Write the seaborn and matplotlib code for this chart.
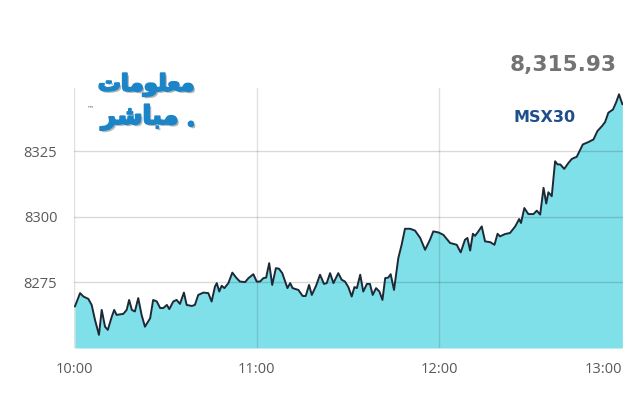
import matplotlib
matplotlib.use("Agg")
import matplotlib.pyplot as plt
import matplotlib.patheffects as pe
import seaborn as sns
import pandas as pd

# minutes after 10:00
minutes = [0.3, 2.0, 3.1, 4.7, 5.8, 6.9, 8.2, 9.1, 10.2, 11.1, 12.4, 13.2, 14.0, 16.2, 17.3,
           18.1, 19.0, 20.0, 21.1, 22.2, 23.3, 25.0, 26.0, 27.2, 28.3, 29.3, 30.5, 31.3, 32.6,
           33.7, 34.8, 36.1, 37.0, 38.7, 39.7, 40.8, 42.5, 44.1, 45.2, 46.3, 46.9, 47.7, 48.5,
           49.4, 50.2, 50.7, 52.0, 53.4, 54.5, 56.2, 57.3, 58.9, 60.0, 61.1, 62.2, 63.1, 64.1,
           65.1, 66.3, 67.3, 68.4, 70.1, 71.0, 71.8, 73.7, 75.1, 76.1, 77.2, 78.1, 79.5, 80.8,
           82.1, 83.0, 84.1, 85.2, 86.8, 87.9, 89.0, 90.1, 91.2, 92.1, 92.9, 94.0, 95.0, 96.2,
           97.2, 98.1, 99.2, 100.3, 101.3, 102.2, 103.2, 104.0, 105.1, 106.5, 107.6, 108.7,
           110.4, 112.0, 113.7, 115.3, 116.9, 118.0, 119.7, 121.3, 123.5, 125.7, 127.0, 128.4,
           129.2, 130.1, 131.0, 131.7, 132.8, 133.9, 135.0, 136.7, 138.1, 139.1, 139.9, 141.6,
           143.2, 144.9, 146.2, 146.8, 147.9, 149.2, 150.9, 152.0, 153.1, 154.2, 155.1, 155.8,
           156.9, 158.0, 158.8, 159.7, 161.0, 162.4, 163.5, 165.1, 167.1, 168.9, 170.6, 171.9,
           173.4, 174.4, 175.5, 177.0, 178.0, 179.0, 180.1]
index_values = [8265.8, 8270.9, 8269.6, 8268.7, 8266.4, 8260.7, 8255.0, 8264.5, 8258.1, 8256.9,
                8261.9, 8264.5, 8262.6, 8263.0, 8264.5, 8268.3, 8264.5, 8263.9, 8269.0, 8262.6,
                8258.1, 8261.3, 8268.3, 8267.7, 8265.2, 8265.2, 8266.4, 8264.8, 8267.7, 8268.3,
                8266.8, 8271.1, 8266.4, 8266.0, 8266.4, 8270.2, 8271.1, 8270.9, 8267.7, 8273.4,
                8274.7, 8271.5, 8273.7, 8272.8, 8274.0, 8274.7, 8278.7, 8276.6, 8275.3, 8275.1,
                8276.6, 8278.1, 8275.3, 8275.3, 8276.6, 8276.8, 8282.3, 8274.0, 8280.4, 8280.2,
                8278.5, 8272.8, 8274.7, 8272.8, 8272.1, 8269.8, 8269.8, 8274.0, 8270.2, 8273.7,
                8277.9, 8274.4, 8274.7, 8278.5, 8274.7, 8278.5, 8276.0, 8275.3, 8273.2, 8269.6,
                8273.2, 8272.8, 8277.9, 8271.5, 8274.4, 8274.4, 8270.2, 8272.8, 8271.5, 8268.3,
                8276.6, 8276.8, 8278.1, 8272.1, 8284.2, 8289.3, 8295.4, 8295.4, 8294.7, 8291.9,
                8287.4, 8291.2, 8294.4, 8294.0, 8293.1, 8290.0, 8289.3, 8286.4, 8291.2, 8291.9,
                8287.1, 8293.5, 8292.7, 8294.4, 8296.3, 8290.6, 8290.3, 8289.3, 8293.5, 8292.5,
                8293.4, 8293.8, 8296.3, 8299.1, 8297.6, 8303.3, 8301.0, 8301.0, 8302.3, 8300.8,
                8311.0, 8305.0, 8309.3, 8307.8, 8321.1, 8319.9, 8319.9, 8318.2, 8320.5, 8322.0,
                8322.8, 8327.5, 8328.4, 8329.4, 8332.6, 8334.5, 8336.0, 8339.6, 8340.8, 8343.4,
                8346.6, 8342.8]

x_ticks = [0, 60, 120, 180]
x_tick_labels = ["10:00", "11:00", "12:00", "13:00"]
y_ticks = [8275, 8300, 8325]
y_tick_labels = ["8275", "8300", "8325"]

last_value_text = "8,315.93"
index_name = "MSX30"
logo_top = "\uFE95\uFE8E\uFEE3\uFEEE\uFEE0\uFECC\uFEE3"   # معلومات (shaped, visual order)
logo_bottom = "\uFEAE\uFEB7\uFE8E\uFE92\uFEE3"            # مباشر (shaped, visual order)

df = pd.DataFrame({"minutes": minutes, "value": index_values})

sns.set_theme(style="white")
plt.rcParams["font.family"] = ["Open Sans", "DejaVu Sans"]

fig = plt.figure(figsize=(6.4, 4.0), dpi=100)
ax = fig.add_axes([74 / 640, 52 / 400, 549 / 640, 260 / 400])

ax.fill_between(df["minutes"], df["value"], 8250, color="#80e0e9", lw=0, zorder=1)
sns.lineplot(data=df, x="minutes", y="value", ax=ax, color="#1d2936", lw=1.4, zorder=4)

for yv in y_ticks:
    ax.axhline(yv, color="black", alpha=0.15, lw=1, zorder=2)
for xv in x_ticks[:3]:
    ax.axvline(xv, color="black", alpha=0.12, lw=1, zorder=2)

ax.set_xlim(0, 180.3)
ax.set_ylim(8250, 8349)
ax.set_xticks(x_ticks)
ax.set_xticklabels(x_tick_labels)
ax.set_yticks(y_ticks)
ax.set_yticklabels(y_tick_labels)
ax.set_xlabel("")
ax.set_ylabel("")
for s in ax.spines.values():
    s.set_visible(False)
ax.tick_params(axis="both", length=0, labelsize=10.5, labelcolor="#595959")
ax.tick_params(axis="x", pad=10)
ax.tick_params(axis="y", pad=12)
lbls = ax.get_xticklabels()
lbls[-1].set_horizontalalignment("right")

fig.text(617 / 640, 1 - 65.5 / 400, last_value_text, ha="right", va="center",
         fontsize=15.6, fontweight="bold", color="#737373", family="DejaVu Sans")
fig.text(545 / 640, 1 - 117.5 / 400, index_name, ha="center", va="center",
         fontsize=11.5, fontweight="bold", color="#1f4e8c", family="DejaVu Sans")

logo_blue = "#1b85c8"
logo_fx = [pe.withSimplePatchShadow(offset=(1.5, -1.5), shadow_rgbFace="#7a7a7a", alpha=0.55),
           pe.Stroke(linewidth=1.4, foreground=logo_blue), pe.Normal()]
fig.text(146 / 640, 1 - 85 / 400, logo_top, ha="center", va="center", fontsize=16.5,
         fontweight="bold", color=logo_blue, family="DejaVu Sans", path_effects=logo_fx)
fig.text(140 / 640, 1 - 117 / 400, logo_bottom, ha="center", va="center", fontsize=18.5,
         fontweight="bold", color=logo_blue, family="DejaVu Sans", path_effects=logo_fx)
fig.text(191 / 640, 1 - 124 / 400, "\u25CF", ha="center", va="center", fontsize=4.5,
         color=logo_blue, family="DejaVu Sans", path_effects=logo_fx)
fig.text(91 / 640, 1 - 108 / 400, "\u2122", ha="center", va="center", fontsize=5,
         color="#666666", family="DejaVu Sans")

fig.savefig("out.png", dpi=100, facecolor="white")
